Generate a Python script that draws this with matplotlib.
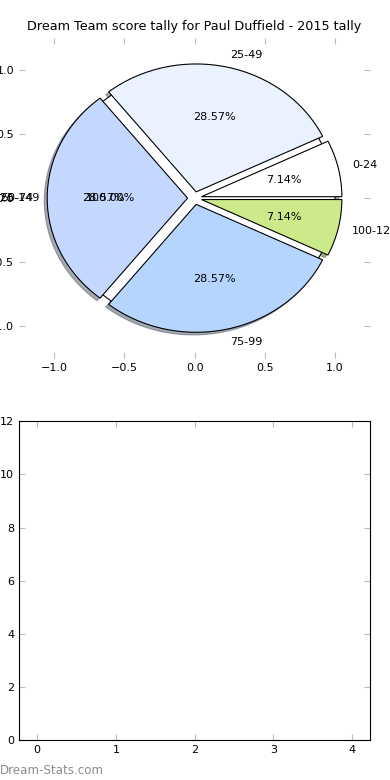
import matplotlib
matplotlib.use('Agg')
import matplotlib.pyplot as plt

# score bands and how many games fell in each
bands = ['0-24', '25-49', '50-74', '75-99', '100-124']
games = [1, 4, 4, 4, 1]
band_colors = ['#ffffff', '#eaf1ff', '#c4d8ff', '#b5d5ff', '#cdea8a']

# full-season wedge that sits under the main pie
total_label = ['125-149']
total_games = [sum(games)]

title = 'Dream Team score tally for Paul Duffield - 2015 tally'

plt.rcParams['font.family'] = 'DejaVu Sans'
plt.rcParams['font.size'] = 8

fig = plt.figure(figsize=(3.9, 7.8), dpi=100)
ax = fig.add_axes([0.049, 0.541, 0.9, 0.41])
ax2 = fig.add_axes([0.049, 0.051, 0.9, 0.409])

wp = {'edgecolor': 'k', 'linewidth': 0.8}
shadow = {'ox': -0.015, 'oy': -0.015, 'shade': 0.6}
# underlying single wedge
ax.pie(total_games, labels=total_label, colors=['#ffffff'], autopct='%1.2f%%',
       shadow=False, startangle=0, wedgeprops=wp, textprops={'fontsize': 8})
ax.pie(games, labels=bands, colors=band_colors, autopct='%1.2f%%',
       explode=[0.05] * len(games), shadow=shadow, startangle=0,
       wedgeprops=wp, textprops={'fontsize': 8})

ax.set_aspect('auto')
ax.set_frame_on(False)
ax.set_xlim(-1.25, 1.25)
ax.set_ylim(-1.25, 1.25)
ax.set_xticks([-1.0, -0.5, 0.0, 0.5, 1.0])
ax.set_yticks([-1.0, -0.5, 0.0, 0.5, 1.0])
ax.tick_params(direction='in', length=4, color='#bbbbbb', top=True, right=True, labelsize=8)
ax.set_title(title, fontsize=9.2)

ax2.set_xlim(-0.23, 4.23)
ax2.set_ylim(0, 12)
ax2.set_xticks(range(5))
ax2.set_yticks(range(0, 13, 2))
ax2.tick_params(direction='in', length=4, color='#bbbbbb', top=True, right=True, labelsize=8)

fig.text(0.0, 0.008, 'Dream-Stats.com', color='#8c8c8c', fontsize=8.6)

fig.savefig('out.png', dpi=100)
